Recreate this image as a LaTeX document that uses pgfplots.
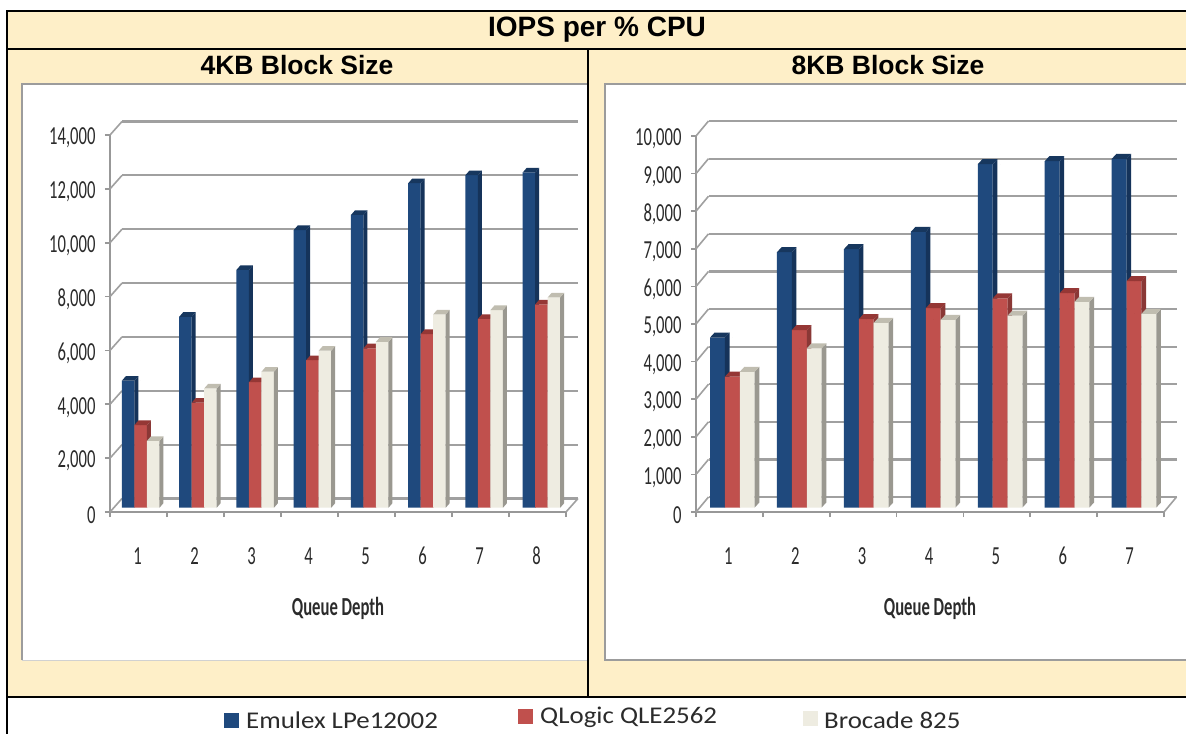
\documentclass[border=0pt]{standalone}
\usepackage{pgfplots}
\usepackage{pgfplotstable}
\usepackage{fontspec}
\pgfplotsset{compat=1.18}
\setmainfont{Liberation Sans}
\newfontfamily\chartfont[FakeStretch=0.64]{Carlito}
\newfontfamily\legendfont[FakeStretch=1.12]{Carlito}
\definecolor{cream}{HTML}{FEEFC8}
\definecolor{panelgrey}{HTML}{9C9C9C}
\definecolor{gridgrey}{HTML}{A0A0A0}
\definecolor{axisgrey}{HTML}{989898}
\definecolor{labelink}{HTML}{2B2B2B}
\definecolor{bluef}{HTML}{1F497D}\definecolor{blues}{HTML}{15335A}\definecolor{bluet}{HTML}{17375E}
\definecolor{redf}{HTML}{C0504D}\definecolor{reds}{HTML}{8A3836}\definecolor{redt}{HTML}{953735}
\definecolor{creamf}{HTML}{EEECE1}\definecolor{creams}{HTML}{9A9890}\definecolor{creamt}{HTML}{C0BDB0}

\pgfplotstableread{
x e q b
1 4720 3070 2480
2 7090 3900 4430
3 8830 4660 5050
4 10310 5480 5830
5 10870 5920 6160
6 12050 6450 7180
7 12350 7010 7340
8 12450 7550 7810
}\tblfour
\pgfplotstableread{
x e q b
1 4520 3480 3610
2 6790 4720 4230
3 6870 5010 4910
4 7330 5300 4990
5 9130 5560 5100
6 9210 5700 5470
7 9270 6020 5150
}\tbleight

% one series in its own hidden axis, so that each series lies over the one to its left:
% depth faces (side and top), then the front bar
\newcommand\barset[7]{%
 \begin{axis}[baraxis,#7]
 \addplot[forget plot,only marks,mark=*,mark size=0pt,draw=none,fill=none,scatter,
   visualization depends on={rawy \as \vy},
   scatter/@pre marker code/.code={%
     \pgfmathsetmacro\hh{\vy*\ysc}%
     \pgfmathsetmacro\xl{#3-\bw/2}%
     \pgfmathsetmacro\xr{#3+\bw/2}%
     \fill[#5] (\xr pt,0pt)--++(\bdx pt,\bdy pt)--++(0pt,-\hh pt)--++(-\bdx pt,-\bdy pt)--cycle;%
     \fill[#6] (\xl pt,0pt)--++(\bdx pt,\bdy pt)--(\xr pt+\bdx pt,\bdy pt)--(\xr pt,0pt)--cycle;%
   },
   scatter/@post marker code/.code={}]
   table[x=x,y=#2]{#1};
 \addplot[ybar,bar width=\bw pt,bar shift=#3pt,fill=#4,draw=none] table[x=x,y=#2]{#1};
 \end{axis}%
}

\pgfplotsset{
 frameaxis/.style={
  scale only axis,clip=false,axis lines=left,axis line style={-,draw=axisgrey,line width=2pt},
  ymin=0,
  ymajorgrids,
  major grid style={draw=gridgrey,line width=2.2pt},
  scaled y ticks=false,
  tick align=outside,
  major tick length=5pt,
  tick style={draw=axisgrey,line width=1.6pt},
  /pgf/number format/assume math mode=true,
  /pgf/number format/1000 sep={,},
  tick label style={font=\chartfont\fontsize{26}{26}\selectfont,text=labelink},
  yticklabel style={xshift=-6pt,yshift=-3pt},
  xlabel style={at={(axis description cs:0.5,0)},anchor=center,yshift=-96.5pt,font=\chartfont\bfseries\fontsize{26}{26}\selectfont,text=labelink},
  xlabel={Queue Depth},
  xticklabels={},
  extra x tick style={major tick length=0pt,tick style={draw=none},xticklabel style={anchor=center,yshift=-44pt,xshift=-1pt}},
 },
 baraxis/.style={scale only axis,clip=false,hide axis,ymin=0,anchor=south west},
}
\begin{document}
\begin{tikzpicture}
\useasboundingbox (0pt,0pt) rectangle (1186pt,-734pt);
\begin{scope}[x=1pt,y=-1pt]
 \fill[white] (0,0) rectangle (1186,734);
 \fill[cream] (7,11) rectangle (1186,697);
 \fill[white] (22,84) rectangle (588,660);
 \fill[white] (605,84) rectangle (1186,660);
 \draw[panelgrey,line width=1.6pt] (22,660)--(22,84)--(588,84);
 \draw[black!18,line width=1pt] (22,660)--(588,660);
 \draw[panelgrey,line width=1.6pt] (1186,660)--(605,660)--(605,84)--(1186,84);
 \draw[black,line width=2pt] (1186,11)--(7,11)--(7,734);
 \draw[black,line width=2pt] (7,48.5)--(1186,48.5);
 \draw[black,line width=2pt] (7,697)--(1186,697);
 \draw[black,line width=2pt] (588,48.5)--(588,697);
 \node[font=\bfseries\fontsize{28}{28}\selectfont] at (597,30) {IOPS per \% CPU};
 \node[font=\bfseries\fontsize{26.5}{26.5}\selectfont] at (297,65) {4KB Block Size};
 \node[font=\bfseries\fontsize{26.5}{26.5}\selectfont] at (888,65) {8KB Block Size};
 \fill[bluef] (224,713) rectangle (239,728);
 \fill[redf] (518,709) rectangle (533,724);
 \fill[creamf] (803,711) rectangle (818,726);
 \node[anchor=west,inner sep=0pt,text=labelink,font=\legendfont\fontsize{24}{24}\selectfont] at (246,720) {Emulex LPe12002};
 \node[anchor=west,inner sep=0pt,text=labelink,font=\legendfont\fontsize{24}{24}\selectfont] at (540,717) {QLogic QLE2562};
 \node[anchor=west,inner sep=0pt,text=labelink,font=\legendfont\fontsize{24}{24}\selectfont] at (824,720) {Brocade 825};
\end{scope}

% ---------- 4KB ----------
\begin{axis}[frameaxis,at={(110pt,-512pt)},anchor=south west,width=456pt,height=377pt,
  xmin=0.5,xmax=8.5,ymax=14000,
  xtick={0.5,1.5,2.5,3.5,4.5,5.5,6.5,7.5,8.5},
  extra x ticks={1,2,3,4,5,6,7,8},extra x tick labels={1,2,3,4,5,6,7,8},
  ytick={0,2000,4000,6000,8000,10000,12000,14000},
  y grid style={xshift=12pt,yshift=13.5pt}]
 \pgfplotsinvokeforeach{0,2000,4000,6000,8000,10000,12000,14000}{
  \draw[gridgrey,line width=1.6pt] (axis cs:0.5,#1)--++(12pt,13.5pt);}
 \draw[gridgrey,line width=1.6pt] (axis cs:8.5,0)--++(12pt,13.5pt);
\end{axis}
\def\bw{12.5}\def\bdx{4}\def\bdy{4.6}\def\ysc{0.02693}
\def\fouropts{at={(112.1pt,-507.7pt)},width=458pt,height=377pt,xmin=0.5,xmax=8.5,ymax=14000}
\barset{\tblfour}{e}{-12.5}{bluef}{blues}{bluet}{at={(112.1pt,-507.7pt)},width=458pt,height=377pt,xmin=0.5,xmax=8.5,ymax=14000}
\barset{\tblfour}{q}{0}{redf}{reds}{redt}{at={(112.1pt,-507.7pt)},width=458pt,height=377pt,xmin=0.5,xmax=8.5,ymax=14000}
\barset{\tblfour}{b}{12.5}{creamf}{creams}{creamt}{at={(112.1pt,-507.7pt)},width=458pt,height=377pt,xmin=0.5,xmax=8.5,ymax=14000}

% ---------- 8KB ----------
\begin{axis}[frameaxis,at={(696pt,-512pt)},anchor=south west,width=468pt,height=376pt,
  xmin=0.5,xmax=7.5,ymax=10000,
  xtick={0.5,1.5,2.5,3.5,4.5,5.5,6.5,7.5},
  extra x ticks={1,2,3,4,5,6,7},extra x tick labels={1,2,3,4,5,6,7},
  ytick={0,1000,2000,3000,4000,5000,6000,7000,8000,9000,10000},
  y grid style={xshift=12.5pt,yshift=15pt}]
 \pgfplotsinvokeforeach{0,1000,2000,3000,4000,5000,6000,7000,8000,9000,10000}{
  \draw[gridgrey,line width=1.6pt] (axis cs:0.5,#1)--++(12.5pt,15pt);}
 \draw[gridgrey,line width=1.6pt] (axis cs:7.5,0)--++(12.5pt,15pt);
\end{axis}
\def\bw{14.9}\def\bdx{4.6}\def\bdy{5}\def\ysc{0.0376}
\barset{\tbleight}{e}{-14.9}{bluef}{blues}{bluet}{at={(698.9pt,-507.5pt)},width=468.6pt,height=376pt,xmin=0.5,xmax=7.5,ymax=10000}
\barset{\tbleight}{q}{0}{redf}{reds}{redt}{at={(698.9pt,-507.5pt)},width=468.6pt,height=376pt,xmin=0.5,xmax=7.5,ymax=10000}
\barset{\tbleight}{b}{14.9}{creamf}{creams}{creamt}{at={(698.9pt,-507.5pt)},width=468.6pt,height=376pt,xmin=0.5,xmax=7.5,ymax=10000}
\end{tikzpicture}
\end{document}
